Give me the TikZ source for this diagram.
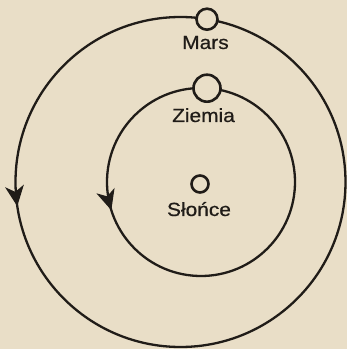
\documentclass[tikz,border=0pt]{standalone}
\usepackage{fontspec}
\setmainfont{Liberation Sans}[FakeStretch=1.1,FakeBold=0.6]
\usetikzlibrary{arrows.meta,decorations.markings}
\definecolor{paper}{RGB}{233,222,199}
\definecolor{ink}{RGB}{32,28,24}
\tikzset{
  orbit/.style={draw=ink, line width=2.3pt},
  planet/.style={circle, draw=ink, line width=2.6pt, fill=paper, inner sep=0pt},
  lbl/.style={text=ink, inner sep=0pt, anchor=base, font=\fontsize{19}{21}\selectfont},
  dirarrow/.style={postaction={decorate}, decoration={markings,
    mark=at position #1 with {\fill[ink] (1.5pt,0pt) -- (-19pt,9.5pt) -- (-13pt,0pt) -- (-19pt,-9.5pt) -- cycle;}}}
}
\begin{document}
\begin{tikzpicture}[x=1pt,y=1pt]
  \fill[paper] (0,0) rectangle (347,349);
  \useasboundingbox (0,0) rectangle (347,349);
  \coordinate (oc) at (180.5,167);
  \coordinate (ic) at (201,167);
  \draw[orbit, dirarrow=0.522] (oc) circle[radius=165];
  \draw[orbit, dirarrow=0.546] (ic) circle[radius=94];
  \node[planet, minimum size=21pt] (mars) at (207,329.8) {};
  \node[planet, minimum size=27pt] (ziemia) at (207,260.8) {};
  \node[planet, minimum size=17pt] (slonce) at (200,165) {};
  \node[lbl] (marsl) at (205.5,300) {Mars};
  \node[lbl] (ziemial) at (203.5,227) {Ziemia};
  \node[lbl] (slabel) at (199,133) {Słońce};
\end{tikzpicture}
\end{document}
